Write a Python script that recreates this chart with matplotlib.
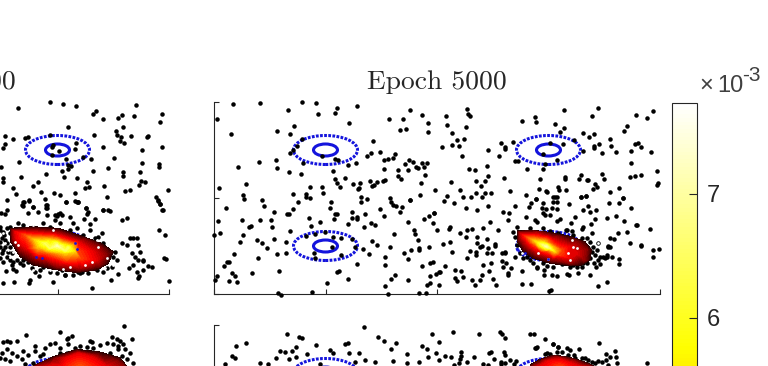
import numpy as np
import matplotlib
matplotlib.use("Agg")
import matplotlib.pyplot as plt
from matplotlib.cm import ScalarMappable
from matplotlib.colors import Normalize
from matplotlib.patches import Ellipse

# points were read off enlarged crops of the picture, so each list keeps the
# crop reading (3 units per pixel) and is scaled to axis units further down
crop_mid_nw = [(98,43),(180,39),(305,36),(348,39),(264,59),(410,55),(405,68),(354,71),(472,47),(52,88),(93,133),(232,122),(281,109),(269,133),(447,98),(568,87),(609,86),(629,61),(667,75),(685,100),(685,125),(600,121),(618,117),(520,153),(305,147),(290,168),(278,180),(270,190),(178,215),(227,210),(231,235),(115,230),(266,245),(304,251),(310,220),(365,197),(405,208),(415,210),(445,224),(468,220),(500,198),(512,189),(541,187),(585,193),(578,203),(565,208),(551,211),(551,236),(593,239),(624,241),(615,223),(626,209),(638,216),(647,232),(655,233),(665,218),(680,219),(671,232),(675,255),(662,279),(704,301),(660,314),(594,258),(603,266),(550,272),(556,271),(530,276),(523,286),(515,288),(510,272),(480,279),(476,293),(473,297),(460,282),(436,264),(420,291),(410,278),(405,268),(399,243),(367,290),(331,291),(369,309),(319,312),(318,321),(330,324),(278,313),(138,283),(57,293),(128,315),(132,327),(187,330),(482,321),(500,326),(570,324),(630,330)]
crop_mid_sw = [(193,33),(79,39),(222,50),(295,22),(394,20),(390,40),(278,43),(268,56),(262,58),(328,69),(334,92),(361,80),(405,58),(412,56),(402,72),(457,50),(456,68),(470,65),(470,72),(495,57),(444,87),(493,95),(514,84),(525,90),(482,20),(540,43),(553,62),(572,20),(578,30),(587,33),(607,35),(600,50),(630,16),(672,72),(688,62),(702,55),(624,82),(641,104),(646,117),(653,134),(710,104),(54,77),(127,75),(181,75),(214,75),(217,95),(152,92),(148,97),(60,115),(128,120),(42,120),(120,140),(172,135),(187,145),(201,159),(223,132),(271,108),(258,141),(232,178),(257,174),(103,177),(175,190),(88,200),(82,200),(71,213),(95,235),(105,243),(52,243),(46,255),(88,258),(110,261),(157,234),(236,229),(410,230),(418,229),(445,253),(470,206),(508,178),(530,150),(490,162),(515,138),(581,118),(570,156),(556,185),(556,211),(612,175),(623,191),(634,166),(657,160),(658,165),(688,155),(698,200),(690,205),(667,213),(690,242),(708,238),(718,232),(716,270),(690,265),(680,270),(584,241),(572,251),(623,254),(556,272),(381,265),(337,292),(235,295),(243,299),(565,298),(657,295),(679,295),(342,175),(395,155),(424,128),(422,180),(345,118),(375,110),(400,125),(318,124),(455,133),(465,155),(345,190)]
crop_mid_ne = [(111,57),(47,77),(114,72),(119,78),(51,105),(108,112),(67,129),(80,151),(102,148),(67,165),(88,167),(36,171),(96,199),(173,180),(207,199),(213,160),(224,170),(224,178),(249,155),(276,94),(315,80),(317,95),(403,59),(375,101),(401,113),(391,125),(504,54),(487,77),(617,76),(668,63),(651,85),(590,107),(583,122),(459,130),(492,131),(477,141),(433,150),(507,161),(491,168),(491,174),(540,146),(543,167),(515,189),(558,187),(604,183),(616,161),(624,159),(632,170),(663,187),(602,218),(460,182),(399,162),(360,158),(340,193),(380,210),(255,214),(265,214),(291,237),(340,238),(344,222),(118,237),(135,239),(170,227),(175,258),(166,272),(137,273),(153,287),(63,276),(89,300),(137,309),(165,310),(182,308),(240,303),(222,265),(289,315),(330,267),(327,298),(348,303),(351,305),(384,290),(387,300),(407,300),(405,262),(405,267),(447,266),(454,254),(470,270),(475,270),(516,252),(523,266),(495,281),(490,297),(502,291),(540,306),(567,293),(578,323),(453,320),(468,317),(370,320),(380,320),(317,327),(599,262),(615,258),(632,256),(680,242),(685,280),(680,285)]
crop_mid_se = [(50,3),(41,18),(71,24),(98,5),(122,5),(156,7),(175,33),(107,40),(140,44),(11,55),(10,85),(61,97),(58,101),(110,104),(125,102),(159,100),(205,105),(90,115),(107,126),(60,142),(38,147),(172,131),(140,127),(140,143),(150,155),(157,153),(196,146),(196,152),(120,168),(137,170),(137,180),(111,189),(65,171),(174,158),(172,175),(185,175),(217,173),(226,170),(226,175),(215,197),(229,205),(45,214),(76,225),(92,227),(30,231),(76,250),(80,257),(100,247),(125,255),(150,256),(157,240),(178,227),(182,205),(160,210),(190,253),(197,270),(135,270),(277,268),(304,268),(220,217),(242,219),(234,233),(234,240),(275,229),(218,52),(238,53),(255,32),(234,76),(180,80),(287,67),(315,75),(322,80),(298,35),(302,25),(318,13),(340,25),(335,40),(348,42),(338,55),(345,60),(360,60),(367,40),(380,42),(370,22),(382,22),(375,6),(418,27),(453,5),(469,3),(474,32),(460,46),(480,50),(497,46),(494,73),(484,88),(436,66),(423,85),(390,72),(380,77),(458,95),(455,103),(408,105),(425,107),(487,113),(530,68),(558,62),(537,24),(566,23),(578,10),(604,40),(583,78),(618,90),(622,90),(590,110),(660,103),(600,143),(634,149),(632,153),(563,115),(553,132),(540,128),(535,152),(541,155),(669,165),(688,163),(669,185),(567,192),(567,208),(546,186),(532,187),(525,190),(505,195),(510,208),(492,205),(497,215),(480,240),(443,235),(410,236),(416,240),(380,242),(365,240),(342,225),(342,240),(320,218),(505,273),(530,260),(363,285),(358,288)]
mid_fringe = [(260,95),(250,110),(255,125),(262,150),(270,175),(255,185),(280,190),(300,195),(310,205),(320,215),(340,205),(350,212),(370,215),(395,208),(420,215),(430,210),(455,215),(470,205),(480,190),(495,180),(510,185),(500,165),(490,155),(505,145),(480,140),(470,130),(455,128),(430,120),(410,105),(385,115),(360,108),(340,100),(300,100),(520,185),(530,180),(535,155),(290,185),(460,205),(440,215),(485,170),(475,160)]
crop_left_n = [(54,145),(149,126),(190,131),(229,137),(287,152),(280,163),(308,177),(355,175),(366,164),(403,167),(408,134),(487,162),(479,187),(204,201),(368,200),(347,213),(350,225),(362,230),(393,228),(360,243),(372,250),(445,229),(441,230),(485,260),(425,269),(282,225),(150,225),(85,230),(75,233),(39,237),(15,229),(14,252),(8,265),(308,262),(229,248),(224,267),(160,255),(155,260),(178,272),(155,285),(197,297),(248,290),(272,298),(343,294),(425,309),(476,312),(476,320),(419,336),(370,337),(370,347),(423,362),(435,366),(417,376),(504,391),(391,391),(375,393),(322,412),(313,377),(324,323),(280,334),(268,380),(255,384),(261,367),(231,354),(192,351),(186,333),(205,315),(212,318),(204,328),(138,341),(62,351),(58,306),(2,320),(8,353),(8,365),(115,365),(98,378),(38,385),(47,402),(20,421),(69,427),(65,436),(88,421),(98,440),(135,418),(122,396),(162,398),(180,405),(199,426),(224,400),(230,425),(233,425),(140,435),(137,445),(258,445),(308,450),(467,410),(474,421),(481,433),(488,450),(325,450)]
crop_left_s = [(18,213),(38,208),(47,213),(43,245),(8,248),(88,250),(90,240),(118,228),(160,245),(195,225),(240,220),(277,265),(332,240),(353,221),(387,203),(415,235),(418,228),(443,198),(457,200),(428,182),(491,175),(497,178),(508,242),(477,89),(495,105),(366,59),(380,55),(308,30),(330,33),(473,2),(481,13),(487,29),(258,23),(265,35),(269,72),(286,57),(252,58),(262,42),(210,52),(218,68),(185,45),(170,48),(175,42),(142,45),(113,35),(84,40),(98,20),(68,17),(72,5),(88,2),(137,15),(140,25),(199,5),(225,4),(233,5),(15,43),(20,30),(3,40)]
left_fringe = [(0,50),(10,65),(20,55),(30,50),(5,85),(15,90),(0,95),(20,100),(10,120),(25,125),(35,130),(0,145),(30,150),(40,155),(60,160),(70,150),(85,155),(100,160),(95,175),(105,185),(130,170),(150,185),(170,190),(195,195),(220,195),(245,185),(265,190),(290,180),(310,185),(335,170),(350,150),(345,125),(365,100),(380,105),(395,130),(405,140),(415,150),(420,125),(415,105),(400,85),(390,85),(410,85),(430,150),(400,165),(410,185),(430,180),(55,40),(70,45),(100,50),(130,40),(165,30),(180,40),(180,10),(165,15),(305,70),(295,80),(270,60),(230,55),(0,60),(12,75),(30,70),(0,110),(15,110),(30,110),(5,130),(20,140),(10,155),(50,150),(35,165),(70,165),(120,180),(185,180),(235,185),(320,175),(340,140),(310,100),(285,85),(250,75),(210,60),(150,50),(40,60)]
crop_low_left = [(373,31),(181,47),(78,57),(395,68),(52,75),(205,65),(215,60),(200,68),(270,75),(275,78),(335,62),(350,70),(360,75),(20,75),(30,78),(10,78),(105,90),(370,85),(390,110),(400,140),(375,100),(355,90),(5,110),(20,100),(35,110),(50,120),(70,105),(85,118),(105,105),(120,120),(135,95),(150,85),(165,80),(180,95),(205,85),(225,95),(240,90),(260,92),(280,95),(300,88),(320,80),(340,85),(355,100),(365,120),(380,130),(330,110),(340,130),(0,125),(15,130),(30,135),(65,130),(75,145),(100,140),(130,115),(180,110),(200,112)]
crop_low_mid = [(491,80),(260,103),(296,110),(307,113),(137,129),(109,138),(97,168),(104,175),(76,191),(180,190),(203,191),(228,174),(240,152),(255,155),(275,153),(287,142),(267,177),(288,172),(320,161),(347,136),(390,150),(398,160),(436,133),(444,128),(446,160),(477,159),(464,185),(495,181),(524,185),(533,111),(553,122),(589,130),(572,148),(621,161),(620,190),(579,182),(656,185),(665,137),(680,147),(696,102),(717,127),(709,158),(684,171),(717,179),(735,167),(752,171),(758,96),(783,157),(783,167),(781,178),(761,194),(776,188),(800,187),(823,172),(836,103),(901,95),(906,103),(915,113),(866,159),(873,155),(913,157),(916,165),(882,176),(902,185),(903,192),(931,181),(948,183),(942,192),(848,192),(865,195),(916,190),(991,102),(1003,102),(1035,117),(1059,132),(1075,140),(1007,145),(1040,160),(1196,128),(1244,152),(1218,163),(1230,170),(1248,170),(1205,185),(1193,183),(1218,180),(1250,188),(1225,195),(1341,188),(359,192)]
crop_low_right = [(105,55),(110,50),(175,50),(135,72),(160,42),(200,55),(210,60),(222,75),(238,57),(185,65),(150,72),(255,85),(275,95),(265,90),(115,95),(225,85),(205,75),(170,65),(245,85),(285,100)]

# density levels (x 1e-3) with the outline read for each level
blob_levels = [0.3, 1.5, 2.5, 3.6, 5.2, 6.4, 7.0]
left_rings = [
    [(30,55),(100,50),(175,55),(250,80),(305,100),(340,125),(325,160),(290,180),(230,188),(160,178),(100,165),(60,140),(32,95)],
    [(38,62),(90,60),(170,65),(250,88),(300,112),(318,135),(298,165),(240,178),(170,170),(110,150),(60,120),(38,85)],
    [(45,65),(90,68),(170,75),(235,95),(280,125),(290,150),(250,165),(190,160),(130,140),(80,115),(50,90)],
    [(75,75),(120,78),(190,90),(230,125),(240,145),(200,150),(140,130),(95,105)],
    [(105,90),(150,90),(200,103),(225,125),(195,130),(145,122),(115,110)],
    [(135,100),(170,100),(205,112),(195,122),(150,115)],
    [(172,108)],
]
mid_rings = [
    [(262,108),(300,105),(360,112),(420,124),(465,140),(485,165),(480,195),(455,210),(420,212),(360,205),(310,190),(280,170),(262,140)],
    [(268,112),(320,110),(380,125),(440,140),(470,165),(465,195),(420,205),(370,195),(320,180),(285,155),(268,130)],
    [(275,118),(315,118),(370,135),(420,155),(440,175),(420,190),(380,185),(330,170),(295,148)],
    [(290,125),(325,128),(365,145),(395,165),(385,178),(350,168),(315,150)],
    [(315,138),(340,140),(365,155),(375,170),(350,165),(325,152)],
    [(335,148),(350,150),(360,160),(345,157)],
    [(347,154)],
]
low_left_rings = [
    [(100,150),(160,122),(230,100),(300,108),(360,125),(380,150),(395,260),(100,260)],
    [(110,150),(165,128),(230,108),(290,118),(350,135),(370,150),(370,250),(110,250)],
    [(150,150),(200,125),(235,112),(280,125),(320,150),(330,240),(150,240)],
    [(200,170),(240,145),(280,170),(280,230),(200,230)],
]
low_right_rings = [
    [(90,105),(120,88),(160,75),(210,82),(260,98),(285,110),(295,200),(90,200)],
    [(100,108),(130,90),(170,80),(220,90),(270,108),(270,200),(100,200)],
    [(120,108),(145,92),(180,88),(210,98),(235,108),(235,190),(120,190)],
    [(160,125),(180,110),(200,125),(200,180),(160,180)],
]
left_specks = [(100,45),(45,95),(55,105),(40,125),(25,120),(15,100),(8,70),(30,140),(290,90),(295,110),(255,165),(275,155),(320,145),(340,165),(210,172),(150,180),(190,178),(315,175),(160,60),(100,180)]
left_blue = [(225,100),(232,118),(125,145),(108,140)]
mid_specks = [(50,100),(100,100),(130,118),(200,60),(215,85),(190,100),(195,120),(205,80),(265,60),(280,70)]
mid_blue = [(38,90),(130,118),(60,100)]

cluster_x = [-1, 1]
cluster_y = [0.5, -0.5]
cbar_ticks = [6, 7]
cbar_max = 7.73


def panel(left_px, top_px):
    ax = fig.add_axes([left_px / 768, 1 - (top_px + 192) / 366, 446 / 768, 192 / 366])
    ax.set_xlim(-2, 2)
    ax.set_ylim(-1, 1)
    ax.set_xticks([-2, -1, 0, 1, 2])
    ax.set_yticks([-1, 0, 1])
    ax.set_xticklabels([])
    ax.set_yticklabels([])
    ax.tick_params(direction="in", length=3.5, width=0.8, color="#262626")
    ax.spines["top"].set_visible(False)
    ax.spines["right"].set_visible(False)
    ax.spines["left"].set_color("#262626")
    ax.spines["bottom"].set_color("#262626")
    # the four target gaussians
    for cx in cluster_x:
        for cy in cluster_y:
            ax.add_patch(Ellipse((cx, cy), 64 / 111.5, 29 / 96, fill=False, ec="#1414dc", lw=2.2, ls=(0, (0.9, 0.45)), zorder=2))
            ax.add_patch(Ellipse((cx, cy), 24 / 111.5, 12 / 96, fill=False, ec="#1414dc", lw=2.2, zorder=2))
    return ax


def crop_xy(points, crop_x, crop_y, left, top):
    # crop reading -> figure pixels -> axis units (x -2..2, y -1..1)
    pts = np.array(points, dtype=float)
    x = (crop_x + pts[:, 0] / 3 - left) / 111.5 - 2
    y = 1 - (crop_y + pts[:, 1] / 3 - top) / 96
    return x, y


def dots(ax, points, crop_x, crop_y, left, top):
    x, y = crop_xy(points, crop_x, crop_y, left, top)
    ax.scatter(x, y, s=10.5, c="k", linewidths=0, clip_on=False, zorder=3)


def blob(ax, rings, levels, crop_x, crop_y, left, top):
    xs, ys, zs = [], [], []
    for ring, level in zip(rings, levels):
        x, y = crop_xy(ring, crop_x, crop_y, left, top)
        xs.extend(x)
        ys.extend(y)
        zs.extend([level] * len(ring))
    ax.tricontourf(xs, ys, zs, levels=np.linspace(0, cbar_max, 40), cmap="hot", vmin=0, vmax=cbar_max, zorder=4)


def specks(ax, points, crop_x, crop_y, left, top, color="w"):
    x, y = crop_xy(points, crop_x, crop_y, left, top)
    ax.scatter(x, y, s=4, c=color, linewidths=0, zorder=5)


plt.rcParams["font.family"] = ["Liberation Sans", "DejaVu Sans"]
fig = plt.figure(figsize=(7.68, 3.66), dpi=100)

LEFT_X, MID_X = -277, 214
TOP_Y, LOW_Y = 102, 325

ax = panel(LEFT_X, TOP_Y)
ax.set_title("Epoch 4000", family="cmr10", fontsize=19.8, color="#262626", pad=9)
dots(ax, crop_left_n, 0, 60, LEFT_X, TOP_Y)
dots(ax, crop_left_s, 0, 200, LEFT_X, TOP_Y)
dots(ax, left_fringe, 0, 210, LEFT_X, TOP_Y)
blob(ax, left_rings, blob_levels, 0, 210, LEFT_X, TOP_Y)
specks(ax, left_specks, 0, 210, LEFT_X, TOP_Y)
specks(ax, left_blue, 0, 210, LEFT_X, TOP_Y, "#1414dc")

ax = panel(MID_X, TOP_Y)
ax.set_title("Epoch 5000", family="cmr10", fontsize=19.8, color="#262626", pad=9)
dots(ax, crop_mid_nw, 200, 90, MID_X, TOP_Y)
dots(ax, crop_mid_sw, 200, 195, MID_X, TOP_Y)
dots(ax, crop_mid_ne, 430, 90, MID_X, TOP_Y)
dots(ax, crop_mid_se, 430, 195, MID_X, TOP_Y)
dots(ax, mid_fringe, 430, 195, MID_X, TOP_Y)
blob(ax, mid_rings, blob_levels, 430, 195, MID_X, TOP_Y)
specks(ax, mid_specks, 505, 220, MID_X, TOP_Y)
specks(ax, mid_blue, 505, 220, MID_X, TOP_Y, "#1414dc")

ax = panel(LEFT_X, LOW_Y)
dots(ax, crop_low_left, 0, 316, LEFT_X, LOW_Y)
blob(ax, low_left_rings, blob_levels, 0, 316, LEFT_X, LOW_Y)

ax = panel(MID_X, LOW_Y)
dots(ax, crop_low_mid, 200, 300, MID_X, LOW_Y)
dots(ax, crop_low_right, 500, 330, MID_X, LOW_Y)
blob(ax, low_right_rings, blob_levels, 500, 330, MID_X, LOW_Y)

# colorbar runs on below the bottom of the picture, 124 px per 1e-3
cax = fig.add_axes([672 / 768, 1 - (103 + cbar_max * 124) / 366, 25 / 768, cbar_max * 124 / 366])
cb = fig.colorbar(ScalarMappable(Normalize(0, cbar_max), "hot"), cax=cax, ticks=cbar_ticks)
cb.ax.tick_params(direction="in", length=6, width=0.8, labelsize=17, color="#262626", labelcolor="#262626", pad=7)
cb.outline.set_edgecolor("#262626")
cb.outline.set_linewidth(0.8)
fig.text(699 / 768, 1 - 92 / 366, "\u00d7", fontsize=17, color="#404040")
fig.text(717 / 768, 1 - 92 / 366, "10", fontsize=17, color="#404040")
fig.text(742 / 768, 1 - 81 / 366, "-3", fontsize=15, color="#404040")

fig.savefig("out.png", dpi=100)
